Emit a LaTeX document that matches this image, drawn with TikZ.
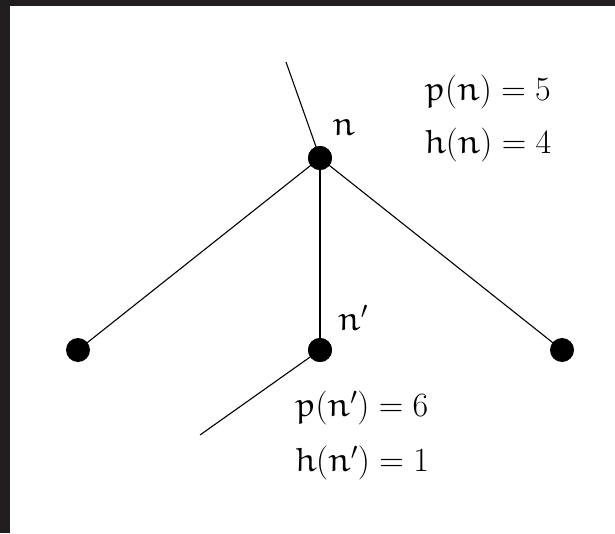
\RequirePackage{fix-cm}
\documentclass[tikz,border=0pt]{standalone}
\DeclareMathAlphabet{\eu}{U}{eur}{m}{n}
\definecolor{frame}{HTML}{221E1F}
\tikzset{
  dot/.style={circle,fill=black,inner sep=0pt,minimum size=24pt},
  edge/.style={line width=1.1pt},
  lab/.style={inner sep=0pt,font=\fontsize{34}{41}\selectfont}
}
\begin{document}
\begin{tikzpicture}[x=1pt,y=1pt]
\useasboundingbox (0,0) rectangle (615,533);
\fill[frame] (0,0) rectangle (615,533);
\fill[white] (10,0) rectangle (615,527);
\node[dot] (n) at (320,375) {};
\node[dot] (l) at (78,183) {};
\node[dot] (m) at (320,183) {};
\node[dot] (r) at (562,183) {};
\coordinate (top) at (286,471);
\coordinate (bot) at (200,98);
\draw[edge] (top) -- (n.center);
\draw[edge] (n.center) -- (l.center);
\draw[edge] (n.center) -- (m.center);
\draw[edge] (n.center) -- (r.center);
\draw[edge] (m.center) -- (bot);
\node[dot] at (n) {};
\node[dot] at (m) {};
\node[lab] (ln) at (344,405) {$\eu{n}$};
\node[lab] (pn) at (488,441) {$\eu{p}(\eu{n})=5$};
\node[lab] (hn) at (488,388) {$\eu{h}(\eu{n})=4$};
\node[lab] (lm) at (353,215) {$\eu{n}'$};
\node[lab] (pm) at (362,125) {$\eu{p}(\eu{n}')=6$};
\node[lab] (hm) at (362,70) {$\eu{h}(\eu{n}')=1$};
\end{tikzpicture}
\end{document}
